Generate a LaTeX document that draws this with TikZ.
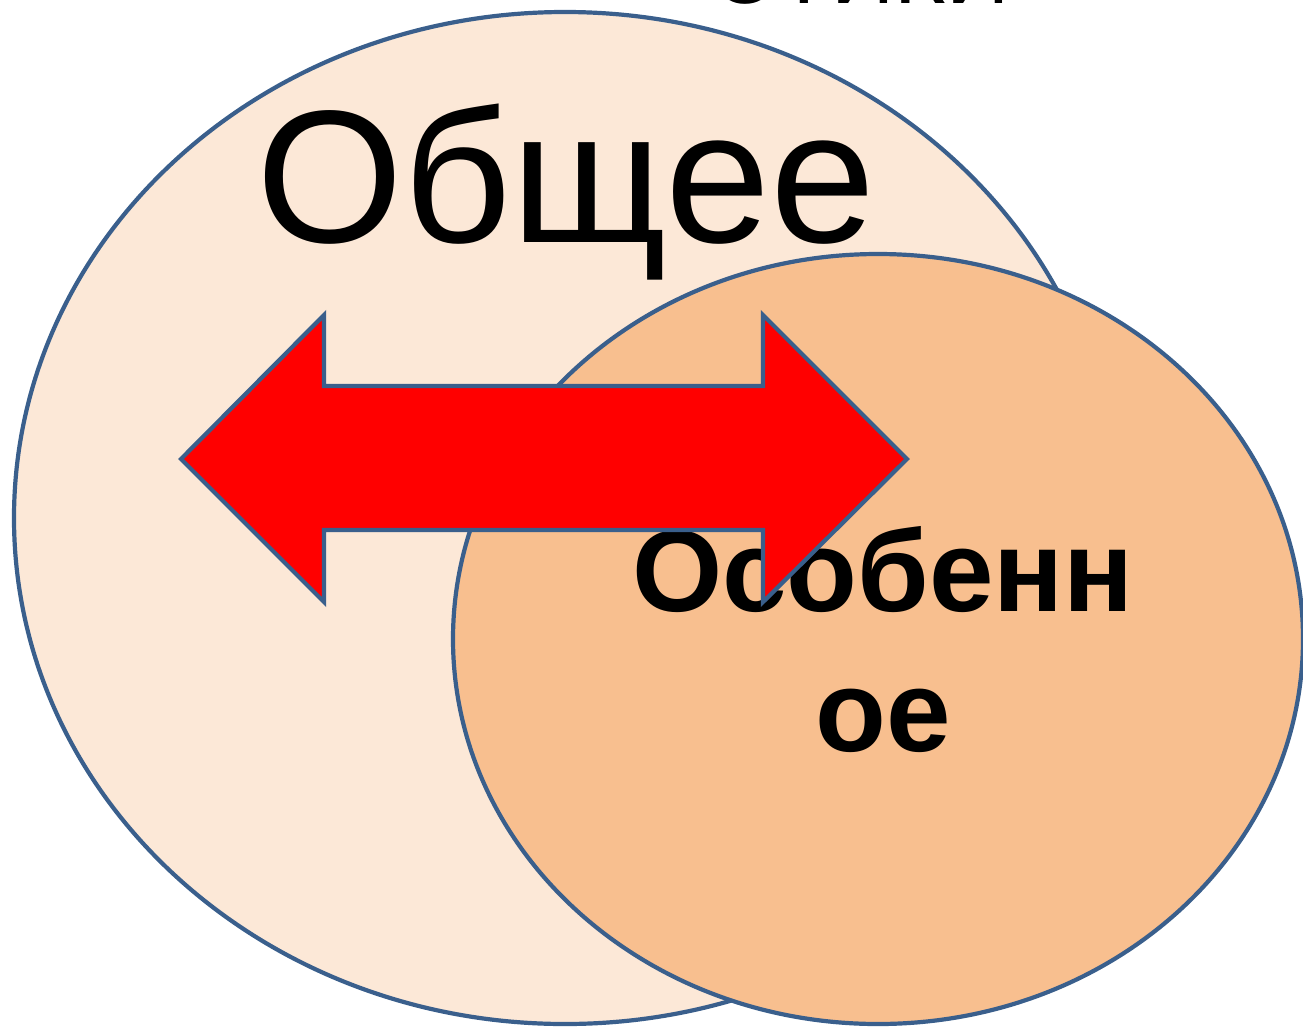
\documentclass[tikz,border=0pt]{standalone}
\usepackage{fontspec}
\setmainfont{Liberation Sans}
\begin{document}
\begin{tikzpicture}[x=1pt,y=-1pt,
  edgeline/.style={draw=ellblue,line width=4.2pt},
  bigtext/.style={anchor=base,inner sep=0pt,font=\fontsize{189}{189}\selectfont},
  boldtext/.style={anchor=base,inner sep=0pt,font=\fontsize{116}{140}\selectfont\bfseries}]
\definecolor{ellblue}{HTML}{3A5F8C}
\definecolor{lightfill}{HTML}{FCE8D7}
\definecolor{darkfill}{HTML}{F8BF8F}
\useasboundingbox (0,0) rectangle (1303,1026);
\clip (0,0) rectangle (1303,1026);
\node[anchor=base,inner sep=0pt,font=\fontsize{88}{88}\selectfont] (top) at (862,3) {ЭТИКИ};
\path[edgeline,fill=lightfill] (565,518) ellipse [x radius=551, y radius=506];
\path[edgeline,fill=darkfill] (878,639) ellipse [x radius=425, y radius=385];
\node[bigtext] (gen) at (566,242) {Общее};
\node[boldtext] (sp1) at (883,611) {Особенн};
\node[boldtext] (sp2) at (883,751) {ое};
\path[edgeline,fill=red,line join=miter] (181,459) -- (324,315) -- (324,386) -- (763,386) -- (763,315) -- (907,459) -- (763,602) -- (763,530) -- (324,530) -- (324,602) -- cycle;
\end{tikzpicture}
\end{document}
